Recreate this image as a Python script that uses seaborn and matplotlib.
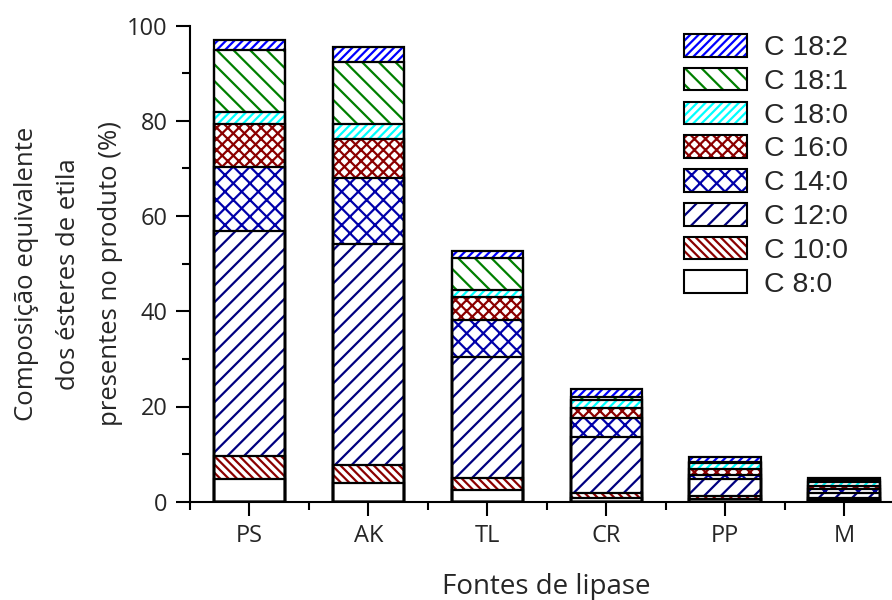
import matplotlib
matplotlib.use("Agg")
import matplotlib.pyplot as plt
from matplotlib.patches import Patch
from matplotlib.ticker import MultipleLocator
import numpy as np
import pandas as pd
import seaborn as sns

# Lipase sources and ethyl ester composition (%)
fontes = ["PS", "AK", "TL", "CR", "PP", "M"]
esteres = ["C 8:0", "C 10:0", "C 12:0", "C 14:0", "C 16:0", "C 18:0", "C 18:1", "C 18:2"]
c8_0 = [4.8, 3.9, 2.5, 0.8, 0.6, 0.4]
c10_0 = [4.8, 3.9, 2.5, 1.0, 0.6, 0.3]
c12_0 = [47.3, 46.4, 25.5, 11.7, 3.5, 1.2]
c14_0 = [13.5, 13.7, 7.7, 4.1, 1.0, 0.8]
c16_0 = [8.9, 8.4, 4.7, 2.0, 1.1, 0.5]
c18_0 = [2.6, 3.0, 1.6, 1.8, 1.4, 1.0]
c18_1 = [13.0, 13.1, 6.6, 0.5, 0.2, 0.3]
c18_2 = [2.2, 3.1, 1.6, 1.7, 0.9, 0.4]
y_ticks = [0, 20, 40, 60, 80, 100]

# hatch colour and pattern for each ester
estilos = {
    "C 8:0": ("white", None),
    "C 10:0": ("#8B0000", "\\\\\\\\"),
    "C 12:0": ("#000080", "//"),
    "C 14:0": ("#0000AA", "xx"),
    "C 16:0": ("#8B0000", "xxx"),
    "C 18:0": ("#00FFFF", "////"),
    "C 18:1": ("#008000", "\\\\"),
    "C 18:2": ("#0000FF", "////"),
}

sns.set_style("ticks")
plt.rcParams["font.family"] = ["Open Sans", "DejaVu Sans"]
plt.rcParams["hatch.linewidth"] = 1.6

series = np.array([c8_0, c10_0, c12_0, c14_0, c16_0, c18_0, c18_1, c18_2])
topos = np.cumsum(series, axis=0)
df = pd.DataFrame({
    "fonte": np.tile(fontes, len(esteres)),
    "ester": np.repeat(esteres, len(fontes)),
    "topo": topos.ravel(),
})

fig = plt.figure(figsize=(8.92, 6.0), dpi=100)
ax = fig.add_axes([190 / 892, 1 - 501.7 / 600, 713.5 / 892, 476 / 600])

# stacked bars: cumulative tops drawn from the highest layer down
for ester in reversed(esteres):
    cor, hatch = estilos[ester]
    sub = df[df["ester"] == ester]
    sns.barplot(data=sub, x="fonte", y="topo", order=fontes, color="white",
                width=0.6, saturation=1, errorbar=None, hatch=hatch,
                edgecolor=cor, linewidth=0, ax=ax)

# black outlines of every segment
for ester in reversed(esteres):
    sub = df[df["ester"] == ester]
    sns.barplot(data=sub, x="fonte", y="topo", order=fontes, fill=False,
                color="black", width=0.6, saturation=1, errorbar=None,
                linewidth=1.6, ax=ax)

ax.set_xlim(-0.5, 5.5)
ax.set_ylim(0, 100)
ax.set_yticks(y_ticks)
ax.yaxis.set_minor_locator(MultipleLocator(10))
ax.set_xticks(np.arange(-0.5, 6.0, 1.0), minor=True)
ax.set_xticks(range(len(fontes)))
ax.set_xticklabels(fontes)
ax.tick_params(which="major", direction="out", length=10, width=1.5,
               labelsize=17, pad=6, color="black")
ax.tick_params(which="minor", direction="out", length=5.5, width=1.5,
               color="black")
for side in ["top", "right"]:
    ax.spines[side].set_visible(False)
for side in ["left", "bottom"]:
    ax.spines[side].set_linewidth(1.5)
    ax.spines[side].set_color("black")

ax.set_xlabel("Fontes de lipase", fontsize=20, labelpad=18)
ax.set_ylabel("")
fig.text(68.5 / 892, 1 - 274 / 600,
         "Composição equivalente\ndos ésteres de etila\npresentes no produto (%)",
         rotation=90, ha="center", va="center", multialignment="center",
         fontsize=18.5, linespacing=1.9)

handles = []
for ester in reversed(esteres):
    cor, hatch = estilos[ester]
    handles.append((Patch(facecolor="white", edgecolor=cor, linewidth=0, hatch=hatch),
                    Patch(facecolor="none", edgecolor="black", linewidth=1.5)))
fig.legend(handles, list(reversed(esteres)), loc="upper left",
           bbox_to_anchor=(684 / 892, 1 - 34 / 600), bbox_transform=fig.transFigure,
           frameon=False, borderpad=0, borderaxespad=0,
           handlelength=2.2, handleheight=0.85, handletextpad=0.6,
           labelspacing=0.23, prop={"family": "Liberation Sans", "size": 20.5})

fig.savefig("out.png", dpi=100)
